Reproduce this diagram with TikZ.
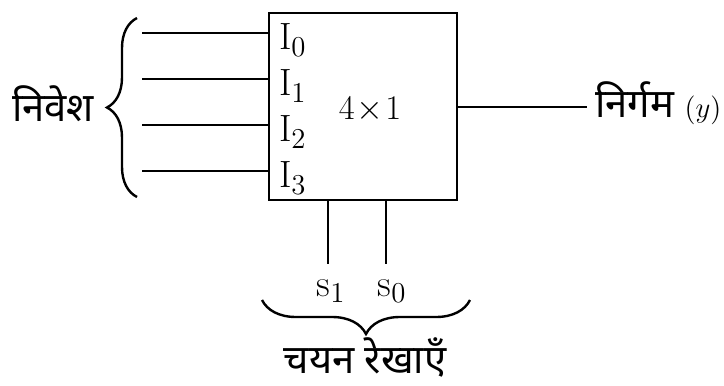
\documentclass[tikz,border=0pt]{standalone}
\usepackage{fontspec}
\newfontfamily\hindi[Script=Devanagari]{Noto Sans}
\usetikzlibrary{decorations.pathreplacing,calc}

\begin{document}
\begin{tikzpicture}[x=0.5pt, y=-0.5pt, line width=1.2pt,
    every node/.style={font=\fontsize{19}{22}\selectfont, inner sep=0pt},
    hin/.style={font=\hindi\fontsize{20}{24}\selectfont},
    brc/.style={decorate, decoration={brace, amplitude=#1}}]
  \useasboundingbox (0,0) rectangle (724,386);
  % the multiplexer block
  \node[draw, minimum width=94pt, minimum height=93.5pt] (mux) at (363,106.5) {};
  \node (size) at (370,110) {$4\!\times\!1$};
  % inputs
  \foreach \n/\y in {0/33,1/79,2/125,3/171} {
    \coordinate (in\n) at (142,\y);
    \draw (in\n) -- (in\n -| mux.west);
    \node[anchor=west] (I\n) at ($(in\n -| mux.west)+(10,7)$) {$\mathrm{I}_{\n}$};
  }
  \draw[brc=15pt] (137,197) -- (137,18);
  \node[hin] (inlbl) at (53,104) {निवेश};
  % output
  \coordinate (out) at (587,107);
  \draw (out -| mux.east) -- (out);
  \node[hin, anchor=west] (outlbl) at (594,103) {निर्गम {\fontsize{15}{18}\selectfont$(y)$}};
  % select lines
  \coordinate (s1end) at (328,264);
  \coordinate (s0end) at (386,264);
  \draw (s1end |- mux.south) -- (s1end);
  \draw (s0end |- mux.south) -- (s0end);
  \node (s1) at (331,291) {$\mathrm{s}_1$};
  \node (s0) at (392,291) {$\mathrm{s}_0$};
  \draw[brc=17pt] (470,300) -- (262,300);
  \node[hin] (sellbl) at (365,357) {चयन रेखाएँ};
\end{tikzpicture}
\end{document}
